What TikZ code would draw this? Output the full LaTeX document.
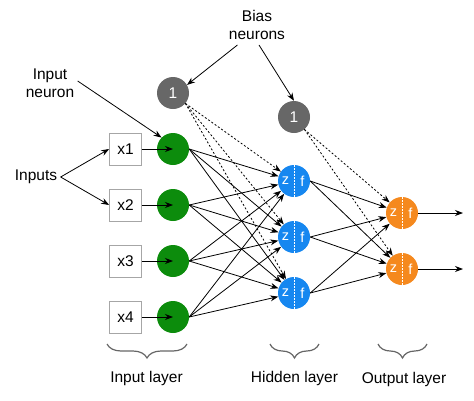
\documentclass[tikz,border=0pt]{standalone}
\usepackage{fontspec}
\setmainfont{Liberation Sans}
\usetikzlibrary{arrows.meta,decorations.pathreplacing}
\definecolor{ingreen}{RGB}{12,140,12}
\definecolor{hidblue}{RGB}{22,135,240}
\definecolor{outorange}{RGB}{245,137,30}
\definecolor{biasgray}{RGB}{103,103,103}
\tikzset{
  neuron/.style={circle, minimum size=32pt, inner sep=0pt},
  inbox/.style={draw=gray!70, line width=0.8pt, minimum size=32pt, inner sep=0pt},
  zf/.style={neuron, fill=#1, path picture={
      \draw[white, line width=0.9pt, dash pattern=on 1.5pt off 1.5pt]
        (path picture bounding box.north) -- (path picture bounding box.south);
      \node[white, font=\fontsize{14.5pt}{16pt}\selectfont] at ([xshift=-8.5pt]path picture bounding box.center) {z};
      \node[white, font=\fontsize{14.5pt}{16pt}\selectfont] at ([xshift=8.5pt]path picture bounding box.center) {f};}},
  wire/.style={-{Stealth[length=8pt,width=6pt]}, line width=0.8pt},
  biaswire/.style={wire, dash pattern=on 2pt off 2pt},
  layerbrace/.style={decorate, decoration={brace, mirror, amplitude=14pt}, draw=black!60, line width=1.2pt}
}
\begin{document}
\begin{tikzpicture}[x=1pt, y=-1pt, font=\fontsize{15.5pt}{17.5pt}\selectfont]
\useasboundingbox (0,0) rectangle (474,400);
% nodes
\foreach \i/\y in {1/149, 2/205, 3/261, 4/317} {
  \node[inbox] (x\i) at (125.5, \y) {x\i};
  \node[neuron, fill=ingreen] (i\i) at (173, \y) {};
}
\foreach \i/\y in {1/181, 2/237, 3/293}
  \node[zf=hidblue] (h\i) at (294, \y) {};
\foreach \i/\y in {1/213, 2/269}
  \node[zf=outorange] (o\i) at (402, \y) {};
\node[neuron, fill=biasgray, text=white] (b1) at (173, 93) {1};
\node[neuron, fill=biasgray, text=white] (b2) at (294, 117) {1};
\coordinate (y1) at (463, 213);
\coordinate (y2) at (463, 269);
% labels
\node[align=center] (tbias) at (257, 25) {Bias\\neurons};
\node[align=center] (tneuron) at (50, 83) {Input\\neuron};
\node (tinputs) at (36, 177) {Inputs};
\node (linput) at (146.5, 378) {Input layer};
\node (lhidden) at (294.5, 378) {Hidden layer};
\node (loutput) at (404, 379) {Output layer};
% arrows
\draw[wire] (tneuron.east) ++(0,-2) -- (i1.135);
\draw[wire] (tinputs.east) -- (x1.west);
\draw[wire] (tinputs.east) -- (x2.west);
\draw[wire] (tbias.south west) ++(12,2) -- (b1.30);
\draw[wire] (tbias.south) ++(2,2) -- (b2.north);
\foreach \i in {1,...,4} {
  \draw[wire] (x\i.east) -- (i\i.center);
  \foreach \j in {1,2,3}
    \draw[wire] (i\i.east) -- (h\j);
}
\foreach \j in {1,2,3} {
  \draw[biaswire] (b1.-40) -- (h\j);
  \foreach \k in {1,2}
    \draw[wire] (h\j.east) -- (o\k);
}
\foreach \k in {1,2} {
  \draw[biaswire] (b2.-50) -- (o\k);
  \draw[wire] (o\k.east) -- (y\k);
}
% braces
\draw[layerbrace] (107,344) -- (187,344);
\draw[layerbrace] (270,344) -- (319,344);
\draw[layerbrace] (378,344) -- (427,344);
\end{tikzpicture}
\end{document}
